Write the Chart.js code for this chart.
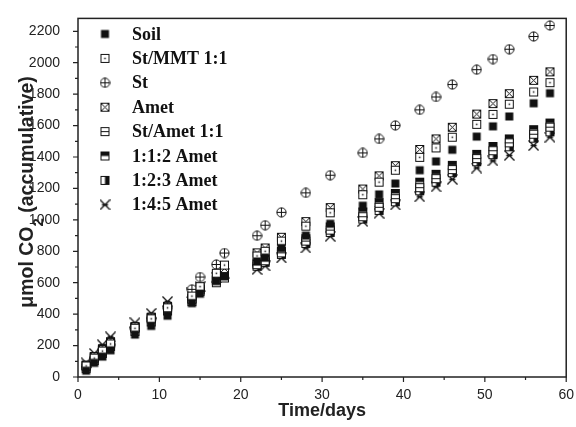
<!DOCTYPE html>
<html>
<head>
<meta charset="utf-8">
<script src="https://cdn.jsdelivr.net/npm/chart.js@4.4.1/dist/chart.umd.min.js"></script>
<style>
  html, body { margin: 0; padding: 0; background: #fff; }
  #wrap { width: 576px; height: 427px; }
</style>
</head>
<body>
<div id="wrap"><canvas id="chart"></canvas></div>
<script>
// ===========================
// DATA
// ===========================

const days = [1, 2, 3, 4, 7, 9, 11, 14, 15, 17, 18, 22, 23, 25, 28, 31, 35, 37, 39, 42, 44, 46, 49, 51, 53, 56, 58];

const soil   = [40, 90, 130, 170, 270, 325, 390, 470, 530, 610, 640, 735, 760, 820, 900, 975, 1090, 1162, 1231, 1316, 1372, 1446, 1530, 1595, 1658, 1742, 1806];
const stMmt  = [70, 120, 165, 210, 310, 370, 440, 515, 575, 660, 712, 770, 800, 865, 960, 1045, 1160, 1240, 1316, 1398, 1458, 1526, 1608, 1671, 1736, 1814, 1873];
const st     = [65, 120, 165, 205, 310, 370, 440, 558, 636, 716, 789, 899, 966, 1048, 1172, 1284, 1426, 1515, 1601, 1700, 1782, 1861, 1956, 2023, 2086, 2167, 2237];
const amet   = [75, 130, 175, 220, 320, 380, 450, 520, 570, 650, 690, 790, 821, 889, 989, 1078, 1196, 1280, 1345, 1448, 1515, 1589, 1673, 1740, 1803, 1888, 1942];
const stAmet = [70, 125, 170, 215, 315, 375, 440, 495, 560, 620, 650, 715, 740, 790, 865, 935, 1020, 1080, 1135, 1205, 1262, 1320, 1390, 1440, 1490, 1545, 1590];
const a112   = [55, 105, 150, 195, 290, 350, 420, 480, 545, 600, 630, 720, 750, 800, 880, 955, 1050, 1110, 1168, 1240, 1290, 1347, 1417, 1467, 1515, 1574, 1616];
const a123   = [75, 130, 180, 225, 320, 380, 445, 500, 555, 615, 640, 705, 730, 780, 850, 920, 1005, 1060, 1115, 1185, 1240, 1300, 1370, 1415, 1465, 1520, 1560];
const a145   = [90, 150, 205, 255, 345, 405, 480, 535, 575, 635, 660, 684, 707, 758, 821, 895, 990, 1042, 1095, 1147, 1210, 1258, 1330, 1375, 1410, 1473, 1526];

const labels = ["Soil", "St/MMT 1:1", "St", "Amet", "St/Amet 1:1", "1:1:2 Amet", "1:2:3 Amet", "1:4:5 Amet"];

const xTicks = [0, 10, 20, 30, 40, 50, 60];
const yTicks = [0, 200, 400, 600, 800, 1000, 1200, 1400, 1600, 1800, 2000, 2200];

// ===========================
// MARKERS
// ===========================

const S = 11, C = 5.5, H = 4;

function marker(draw) {
    const c = document.createElement("canvas");
    c.width = S; c.height = S;
    const g = c.getContext("2d");
    g.lineWidth = 1;
    g.strokeStyle = "#111";
    g.fillStyle = "#111";
    draw(g);
    return c;
}

function box(g) {
    g.fillStyle = "#fff";
    g.fillRect(C - H, C - H, 2 * H, 2 * H);
    g.fillStyle = "#111";
    g.strokeRect(C - H, C - H, 2 * H, 2 * H);
}

const markers = [
    marker(g => g.fillRect(C - H, C - H, 2 * H, 2 * H)),
    marker(g => { box(g); g.fillRect(C - 0.75, C - 0.75, 1.5, 1.5); }),
    marker(g => {
        g.fillStyle = "#fff";
        g.beginPath(); g.arc(C, C, 4.6, 0, Math.PI * 2); g.fill();
        g.stroke();
        g.beginPath();
        g.moveTo(C - 4.6, C); g.lineTo(C + 4.6, C);
        g.moveTo(C, C - 4.6); g.lineTo(C, C + 4.6);
        g.stroke();
    }),
    marker(g => {
        box(g);
        g.beginPath();
        g.moveTo(C - H, C - H); g.lineTo(C + H, C + H);
        g.moveTo(C + H, C - H); g.lineTo(C - H, C + H);
        g.stroke();
    }),
    marker(g => {
        box(g);
        g.beginPath(); g.moveTo(C - H, C); g.lineTo(C + H, C); g.stroke();
    }),
    marker(g => { box(g); g.fillRect(C - H, C - H, 2 * H, H); }),
    marker(g => { box(g); g.fillRect(C, C - H, H, 2 * H); }),
    marker(g => {
        g.lineWidth = 1.3;
        g.beginPath();
        g.moveTo(C - 5, C - 5); g.lineTo(C + 5, C + 5);
        g.moveTo(C + 5, C - 5); g.lineTo(C - 5, C + 5);
        g.moveTo(C - 3, C); g.lineTo(C + 3, C);
        g.stroke();
    })
];

const series = [soil, stMmt, st, amet, stAmet, a112, a123, a145];

// ===========================
// DECORATION PLUGIN
// ===========================

const decor = {
    id: "decor",
    afterDraw(chart) {
        const { ctx, chartArea: a, scales: { x, y } } = chart;
        ctx.save();

        // frame
        ctx.strokeStyle = "#222";
        ctx.lineWidth = 1.5;
        ctx.strokeRect(a.left, a.top, a.right - a.left, a.bottom - a.top);

        // tick marks
        ctx.lineWidth = 1.2;
        ctx.beginPath();
        for (let v = 0; v <= 60; v += 5) {
            const px = x.getPixelForValue(v);
            const len = v % 10 === 0 ? 5 : 3;
            ctx.moveTo(px, a.bottom); ctx.lineTo(px, a.bottom + len);
        }
        for (let v = 0; v <= 2200; v += 100) {
            const py = y.getPixelForValue(v);
            const len = v % 200 === 0 ? 5 : 3;
            ctx.moveTo(a.left, py); ctx.lineTo(a.left - len, py);
        }
        ctx.stroke();

        // legend
        ctx.font = "bold 18px 'Liberation Serif'";
        ctx.fillStyle = "#111";
        ctx.textBaseline = "middle";
        labels.forEach((lab, i) => {
            const yy = 34 + i * 24.4;
            ctx.drawImage(markers[i], 105 - C, yy - C);
            ctx.fillText(lab, 132, yy + 1);
        });

        // y title with subscript
        ctx.translate(26, 192);
        ctx.rotate(-Math.PI / 2);
        const big = "bold 19.5px 'Liberation Sans'";
        const small = "bold 15px 'Liberation Sans'";
        const p1 = "\u03bcmol CO", p2 = "2", p3 = " (accumulative)";
        ctx.font = big; const w1 = ctx.measureText(p1).width, w3 = ctx.measureText(p3).width;
        ctx.font = small; const w2 = ctx.measureText(p2).width;
        let sx = -(w1 + w2 + w3) / 2;
        ctx.textBaseline = "alphabetic";
        ctx.fillStyle = "#222";
        ctx.font = big; ctx.fillText(p1, sx, 7); sx += w1;
        ctx.font = small; ctx.fillText(p2, sx, 17); sx += w2;
        ctx.font = big; ctx.fillText(p3, sx, 7);

        ctx.restore();
    }
};

// ===========================
// CHART
// ===========================

new Chart(document.getElementById("chart"), {

    type: "scatter",

    data: {
        datasets: series.map((s, i) => ({
            label: labels[i],
            data: days.map((d, j) => ({ x: d, y: s[j] })),
            pointStyle: markers[i],
            pointRadius: 5,
            showLine: false
        }))
    },

    options: {
        responsive: true,
        maintainAspectRatio: false,
        animation: false,
        devicePixelRatio: 1,
        layout: { padding: { top: 15, right: 9, left: 0, bottom: 0 } },
        plugins: {
            legend: { display: false },
            tooltip: { enabled: false }
        },
        scales: {
            x: {
                type: "linear",
                min: 0,
                max: 60,
                grid: { display: false },
                border: { display: false },
                afterBuildTicks: s => { s.ticks = xTicks.map(v => ({ value: v })); },
                afterFit: s => { s.height = 50; },
                ticks: {
                    padding: 2,
                    color: "#222",
                    font: { family: "'Liberation Sans'", size: 14 },
                    callback: v => String(v)
                },
                title: {
                    display: true,
                    text: "Time/days",
                    color: "#222",
                    padding: { top: 0, bottom: 5 },
                    font: { family: "'Liberation Sans'", size: 18, weight: "bold" }
                }
            },
            y: {
                min: 0,
                max: 2282,
                grid: { display: false },
                border: { display: false },
                afterBuildTicks: s => { s.ticks = yTicks.map(v => ({ value: v })); },
                afterFit: s => { s.width = 78; },
                ticks: {
                    padding: 10,
                    color: "#222",
                    font: { family: "'Liberation Sans'", size: 14 },
                    callback: v => String(v)
                }
            }
        }
    },

    plugins: [decor]
});
</script>
</body>
</html>
